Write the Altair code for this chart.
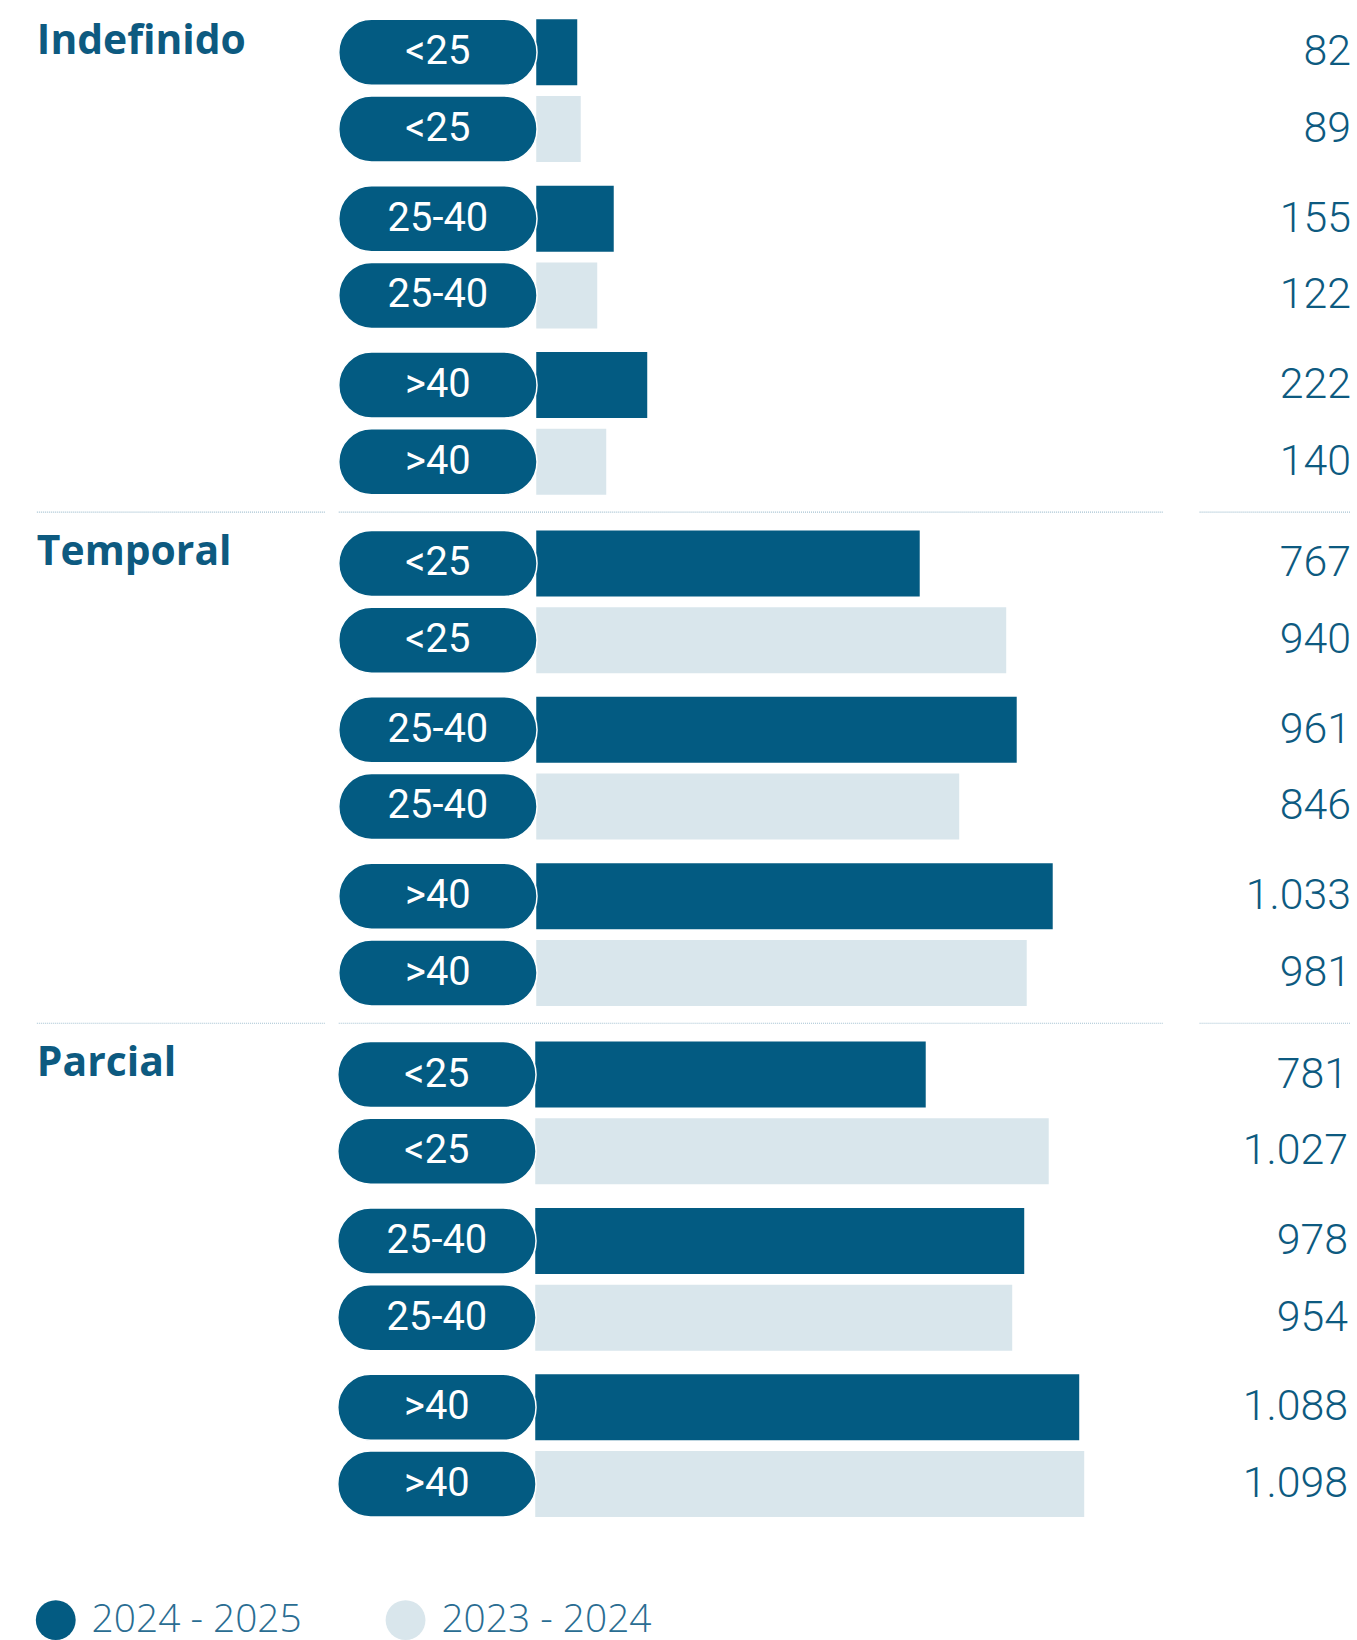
import altair as alt
import pandas as pd

# Contract types, age bands and periods
groups = ["Indefinido", "Temporal", "Parcial"]
ages = ["<25", "25-40", ">40"]
periods = ["2024 - 2025", "2023 - 2024"]

# Values per group, in age order (<25, 25-40, >40)
values_2024_2025 = [82, 155, 222, 767, 961, 1033, 781, 978, 1088]
values_2023_2024 = [89, 122, 140, 940, 846, 981, 1027, 954, 1098]

DARK = "#035b82"
LIGHT = "#d9e6ec"
VALUE_COLOR = "#0d5a80"
LEGEND_COLOR = "#2a6d92"
SEP_COLOR = "#a3c1d1"

rows = []
for gi, g in enumerate(groups):
    for ai, a in enumerate(ages):
        for p, vals in zip(periods, [values_2024_2025, values_2023_2024]):
            v = vals[gi * 3 + ai]
            rows.append({
                "group": g,
                "age": a,
                "period": p,
                "value": v,
                "label": f"{v:,}".replace(",", "."),
            })
df = pd.DataFrame(rows)

PANEL_H = 513
SEP_Y = 505
LABEL_W = 289
BAR_W = 827
VALUE_W = 152
PILL_W = 199

y_enc = alt.Y("age:N", sort=ages, axis=None,
              scale=alt.Scale(type="band", paddingInner=0.078,
                              paddingOuter=0.075, align=0.2))
yoff_enc = alt.YOffset("period:N", sort=periods,
                       scale=alt.Scale(type="band", paddingInner=0.14, paddingOuter=0.07))


def separator(width):
    return alt.Chart(pd.DataFrame({"s": [1]})).mark_rule(
        color=SEP_COLOR, strokeWidth=1.2, strokeDash=[1, 1]
    ).encode(y=alt.value(SEP_Y), x=alt.value(0), x2=alt.value(width))


def group_row(g, last):
    sub = df[df["group"] == g]
    base = alt.Chart(sub).encode(y=y_enc, yOffset=yoff_enc)

    # left column: group name
    label = alt.Chart(pd.DataFrame({"group": [g]})).mark_text(
        align="left", baseline="alphabetic", font="Open Sans", fontSize=41,
        fontWeight="bold", color=VALUE_COLOR
    ).encode(x=alt.value(0), y=alt.value(45), text="group:N")

    # middle column: bars with the age pill on top
    bars = base.mark_bar().encode(
        x=alt.X("value:Q", axis=None,
                scale=alt.Scale(domain=[-395, 1253], nice=False, zero=False)),
        x2=alt.value(100),
        color=alt.Color("period:N", legend=None,
                        scale=alt.Scale(domain=periods, range=[DARK, LIGHT])),
    )
    pills = base.mark_bar(cornerRadius=33, color=DARK, stroke="white",
                          strokeWidth=1.5).encode(
        x=alt.value(0), x2=alt.value(PILL_W)
    )
    pill_text = base.mark_text(color="white", font="Roboto", fontSize=40,
                               baseline="middle").encode(
        x=alt.value(PILL_W / 2), text="age:N"
    )

    # right column: value labels
    values = base.mark_text(align="right", baseline="middle", font="Roboto",
                            fontSize=43, fontWeight=300, color=VALUE_COLOR).encode(
        x=alt.value(VALUE_W), text="label:N"
    )

    left_layers = [label]
    mid_layers = [bars, pills, pill_text]
    right_layers = [values]
    if not last:
        left_layers.append(separator(LABEL_W))
        mid_layers.append(separator(BAR_W))
        right_layers.append(separator(VALUE_W))

    left = alt.layer(*left_layers).properties(width=LABEL_W, height=PANEL_H)
    mid = alt.layer(*mid_layers).properties(width=BAR_W, height=PANEL_H)
    right = alt.layer(*right_layers).properties(width=VALUE_W, height=PANEL_H)
    return alt.hconcat(alt.hconcat(left, mid, spacing=12), right, spacing=35)


blocks = alt.vconcat(*[group_row(g, i == len(groups) - 1) for i, g in enumerate(groups)],
                     spacing=0)

# legend row
leg_df = pd.DataFrame({"period": periods})
leg_x = alt.X("period:N", sort=periods, axis=None,
              scale=alt.Scale(type="point", padding=0.054))
leg_dots = alt.Chart(leg_df).mark_circle(size=1600, opacity=1).encode(
    x=leg_x,
    color=alt.Color("period:N", legend=None,
                    scale=alt.Scale(domain=periods, range=[DARK, LIGHT])),
)
leg_text = alt.Chart(leg_df).mark_text(
    align="left", baseline="middle", dx=36, font="Open Sans", fontSize=39,
    fontWeight=300, color=LEGEND_COLOR
).encode(x=leg_x, text="period:N")
legend = alt.layer(leg_dots, leg_text).properties(width=389, height=40)

chart = alt.vconcat(blocks, legend, spacing=58).properties(
    padding={"left": 35, "top": 6, "right": 5, "bottom": 0},
    background="white",
).configure_view(stroke=None)

chart.save("out.html", embed_options={"renderer": "svg", "actions": False})
